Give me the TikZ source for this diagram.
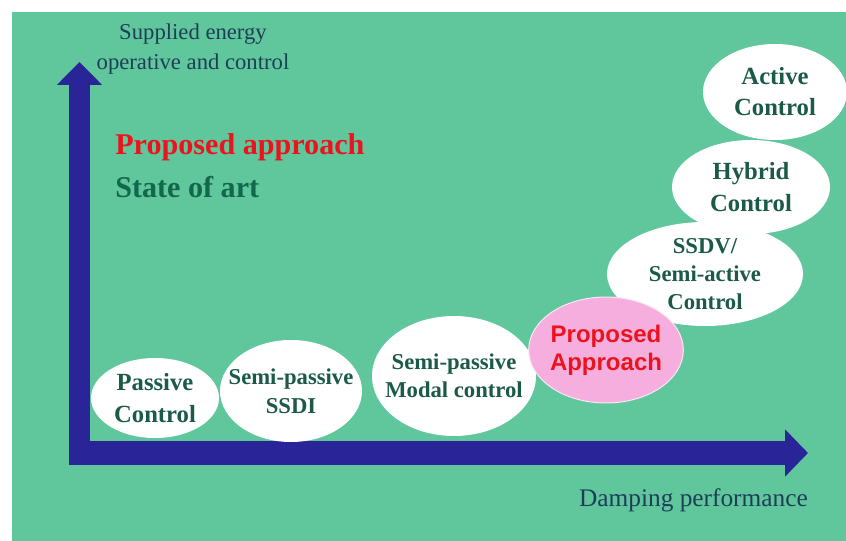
\documentclass[tikz,border=0pt]{standalone}
\usepackage{fontspec}
\setmainfont{Liberation Serif}
\newfontfamily\arialfont{Liberation Sans}
\usetikzlibrary{arrows.meta,shapes.geometric}

\definecolor{bggreen}{RGB}{96,199,156}
\definecolor{axisblue}{RGB}{42,36,153}
\definecolor{boxtext}{RGB}{27,90,72}
\definecolor{artgreen}{RGB}{17,104,74}
\definecolor{labeltext}{RGB}{30,62,88}
\definecolor{proposedred}{RGB}{235,20,30}
\definecolor{proposedpink}{RGB}{245,174,222}

\tikzset{
	bubble/.style={ellipse, fill=white, inner sep=-30pt, align=center,
		text=boxtext, font=\fontsize{18.5}{24}\selectfont\bfseries},
	smallbubble/.style={bubble, font=\fontsize{17}{21}\selectfont\bfseries},
	axislabel/.style={text=labeltext, align=center, inner sep=0pt}
}

\begin{document}
\begin{tikzpicture}[x=0.75pt,y=-0.75pt]
	
	% =========================
	% Background
	% =========================
	\fill[white] (0,0) rectangle (846,541);
	\fill[bggreen] (12,12) rectangle (846,541);
	\useasboundingbox (0,0) rectangle (846,541);
	
	% =========================
	% Axes
	% =========================
	\coordinate (ybase) at (79.5,465);
	\coordinate (ytip) at (79.5,62);
	\coordinate (xbase) at (69,453);
	\coordinate (xtip) at (808,453);
	
	\draw[axisblue, line width=15.75pt,
	-{Triangle[length=17.25pt, width=33pt]}] (ybase) -- (ytip);
	\draw[axisblue, line width=18pt,
	-{Triangle[length=17.25pt, width=34.5pt]}] (xbase) -- (xtip);
	
	\node[axislabel, font=\fontsize{17}{22}\selectfont] (ylabel) at (193,49)
	{Supplied energy\\operative and control};
	\node[axislabel, font=\fontsize{19}{22}\selectfont, anchor=east] (xlabel) at (808,500)
	{Damping performance};
	
	% legend
	\node[anchor=west, inner sep=0pt, text=proposedred,
	font=\fontsize{22.6}{26}\selectfont\bfseries] (legprop) at (115,147)
	{Proposed approach};
	\node[anchor=west, inner sep=0pt, text=artgreen,
	font=\fontsize{22.6}{26}\selectfont\bfseries] (legart) at (115,187)
	{State of art};
	
	% =========================
	% Control strategies
	% =========================
	\node[bubble, minimum width=96pt, minimum height=60pt] (passive) at (155,398)
	{Passive\\Control};
	\node[smallbubble, font=\fontsize{17}{22}\selectfont\bfseries,
	minimum width=106.5pt, minimum height=76.5pt] (ssdi) at (291,391)
	{Semi-passive\\SSDI};
	\node[smallbubble, minimum width=123pt, minimum height=90pt] (modal) at (454,376)
	{Semi-passive\\Modal control};
	\node[smallbubble, minimum width=147pt, minimum height=78pt] (ssdv) at (705,274)
	{SSDV/\\Semi-active\\Control};
	\node[bubble, minimum width=118.5pt, minimum height=70.5pt] (hybrid) at (751,187)
	{Hybrid\\Control};
	\node[bubble, font=\fontsize{18.5}{23.25}\selectfont\bfseries,
	minimum width=108pt, minimum height=72pt] (active) at (775,92)
	{Active\\Control};
	\node[bubble, fill=proposedpink, draw=white!70!proposedpink, line width=0.75pt,
	text=proposedred, font=\fontsize{18}{21}\selectfont\arialfont\bfseries,
	minimum width=116pt, minimum height=79.5pt] (proposed) at (606,350)
	{Proposed\\Approach};
	
\end{tikzpicture}
\end{document}
